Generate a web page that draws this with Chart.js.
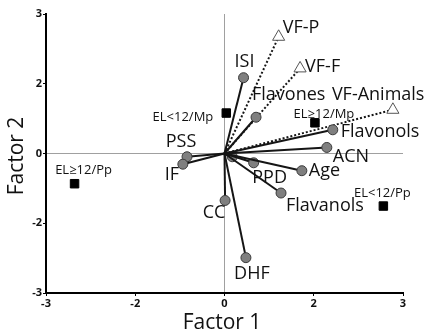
<!DOCTYPE html>
<html lang="en">

<head>
    <meta charset="UTF-8">
    <title>Factor plot</title>
    <script src="https://cdn.jsdelivr.net/npm/chart.js@4.4.1/dist/chart.umd.min.js"></script>
    <style>
        body { margin: 0; background: #fff; }
        canvas { display: block; }
    </style>
</head>

<body>
    <canvas id="myChart" width="433" height="334"></canvas>

    <script>
        // variables drawn as vectors from the origin (grey circles)
        var vectorNames = ["ISI", "Flavones", "Flavonols", "ACN", "Age", "PPD", "Flavanols", "DHF", "CC", "IF", "PSS", ""];
        var vectorX = [0.32, 0.53, 1.82, 1.72, 1.30, 0.49, 0.95, 0.36, 0.01, -0.70, -0.63, 0.13];
        var vectorY = [1.63, 0.78, 0.51, 0.13, -0.37, -0.20, -0.85, -2.24, -1.01, -0.23, -0.07, -0.07];

        // verbal fluency vectors (dotted, open triangles)
        var vfNames = ["VF-P", "VF-F", "VF-Animals"];
        var vfX = [0.91, 1.27, 2.83];
        var vfY = [2.51, 1.83, 0.94];

        // group centroids (black squares)
        var groupNames = ["EL<12/Mp", "EL≥12/Mp", "EL≥12/Pp", "EL<12/Pp"];
        var groupX = [0.03, 1.52, -2.52, 2.67];
        var groupY = [0.87, 0.66, -0.65, -1.13];

        var axisTicks = [-3, -1.5, 0, 1.5, 3];

        // where each label sits relative to its marker: [align, dx, dy]
        var labelPlace = {
            "ISI": ["center", 1, -16], "Flavones": ["left", -4, -22], "Flavonols": ["left", 8, 2],
            "ACN": ["left", 6, 9], "Age": ["left", 7, 0], "PPD": ["center", 16, 15],
            "Flavanols": ["left", 5, 13], "DHF": ["center", 6, 16], "CC": ["center", -11, 12],
            "IF": ["center", -11, 11], "PSS": ["center", -6, -15],
            "VF-P": ["left", 4, -9], "VF-F": ["left", 5, -2], "VF-Animals": ["left", -61, -15],
            "EL<12/Mp": ["right", -13, 4], "EL≥12/Mp": ["center", 9, -9],
            "EL≥12/Pp": ["center", 9, -13], "EL<12/Pp": ["center", -1, -13]
        };

        var labelFont = "18px 'Open Sans'";
        var smallFont = "13px 'Open Sans'";

        var datasets = [];
        for (let i = 0; i < vectorNames.length; i++) {
            datasets.push({
                label: vectorNames[i],
                data: [{ x: 0, y: 0 }, { x: vectorX[i], y: vectorY[i] }],
                showLine: true,
                borderColor: "#151515",
                borderWidth: 2,
                pointRadius: [0, 5],
                pointBackgroundColor: "#7f7f7f",
                pointBorderColor: "#3a3a3a",
                pointBorderWidth: 1
            });
        }
        for (let i = 0; i < vfNames.length; i++) {
            datasets.push({
                label: vfNames[i],
                data: [{ x: 0, y: 0 }, { x: vfX[i], y: vfY[i] }],
                showLine: true,
                borderColor: "#151515",
                borderWidth: 2,
                borderDash: [2, 2],
                pointStyle: "triangle",
                pointRadius: [0, 7],
                pointBackgroundColor: "#fff",
                pointBorderColor: "#555",
                pointBorderWidth: 1
            });
        }
        for (let i = 0; i < groupNames.length; i++) {
            datasets.push({
                label: groupNames[i],
                data: [{ x: groupX[i], y: groupY[i] }],
                showLine: false,
                pointStyle: "rect",
                pointRadius: 6,
                pointBackgroundColor: "#000",
                pointBorderColor: "#000",
                small: true
            });
        }

        var pointLabels = {
            id: "pointLabels",
            afterDatasetsDraw(chart) {
                var ctx = chart.ctx;
                ctx.save();
                ctx.fillStyle = "#111";
                ctx.textBaseline = "middle";
                chart.data.datasets.forEach(function (ds, i) {
                    var place = labelPlace[ds.label];
                    if (!place) { return; }
                    var pts = chart.getDatasetMeta(i).data;
                    var p = pts[pts.length - 1];
                    ctx.font = ds.small ? smallFont : labelFont;
                    ctx.textAlign = place[0];
                    ctx.fillText(ds.label, p.x + place[1], p.y + place[2]);
                });

                // axis titles
                ctx.font = "21px 'Open Sans'";
                ctx.textAlign = "center";
                ctx.fillText("Factor 1", 222, 323);
                ctx.translate(17, 156);
                ctx.rotate(-Math.PI / 2);
                ctx.fillText("Factor 2", 0, 0);
                ctx.restore();
            }
        };

        function roundLabel(v) {
            return String((v < 0 ? -1 : 1) * Math.round(Math.abs(v)));
        }

        function axis(fit) {
            return {
                type: "linear",
                min: -3,
                max: 3,
                afterBuildTicks: function (s) { s.ticks = axisTicks.map(function (v) { return { value: v }; }); },
                ticks: {
                    callback: roundLabel,
                    color: "#111",
                    font: { family: "'Open Sans'", size: 11, weight: "bold" },
                    padding: 1
                },
                grid: {
                    color: function (c) { return c.tick && c.tick.value === 0 ? "#a0a0a0" : "transparent"; },
                    lineWidth: 1,
                    tickColor: "#000",
                    tickLength: 3
                },
                border: { color: "#000", width: 2 },
                afterFit: fit
            };
        }

        new Chart("myChart", {
            type: "scatter",
            data: { datasets: datasets },
            options: {
                responsive: false,
                animation: false,
                layout: { padding: { top: 14, right: 30, left: 0, bottom: 0 } },
                plugins: { legend: { display: false }, tooltip: { enabled: false } },
                scales: {
                    x: axis(function (s) { s.height = 41; }),
                    y: axis(function (s) { s.width = 46; })
                }
            },
            plugins: [pointLabels]
        });
    </script>
</body>

</html>
